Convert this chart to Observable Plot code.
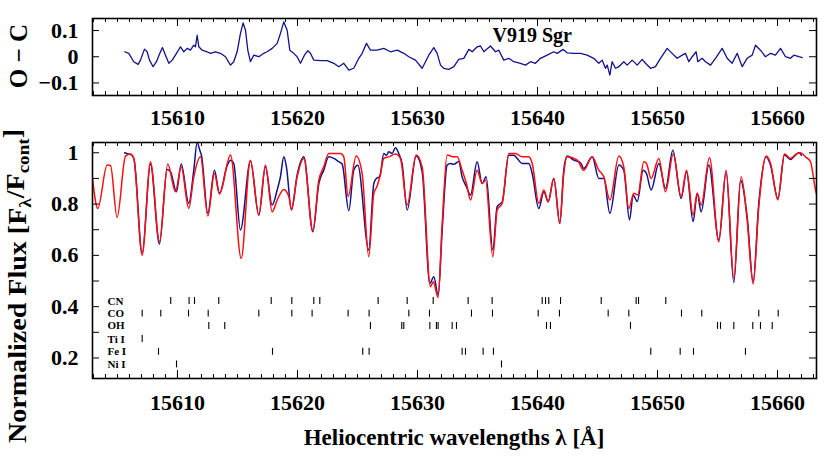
<!DOCTYPE html>
<html><head><meta charset="utf-8">
<script src="https://cdn.jsdelivr.net/npm/d3@7"></script>
<script src="https://cdn.jsdelivr.net/npm/@observablehq/plot@0.6"></script>
<style>
body{margin:0;background:#fff;}
#chart{position:relative;width:830px;height:464px;overflow:hidden;}
#chart svg{position:absolute;left:0;}
</style></head><body><div id="chart"></div><script>
// ---------------- DATA ----------------
const starName = "V919 Sgr";
const xTicks = [15610, 15620, 15630, 15640, 15650, 15660];
const ocTicks = [-0.1, 0, 0.1];
const fluxTicks = [0.2, 0.3, 0.4, 0.5, 0.6, 0.7, 0.8, 0.9, 1.0];
const fluxTickLabels = [0.2, 0.4, 0.6, 0.8, 1];

// synthetic spectrum (red)
const synWave = [15602.92,15603.36,15604.14,15604.42,15604.97,15605.67,15606.08,15606.36,15607.06,15607.75,15608.5,15609.19,15609.83,15610.31,15610.94,15611.36,15611.92,15612.53,15613.08,15613.5,15614.42,15615.31,15616.08,15616.78,15617.33,15617.89,
15618.31,15618.86,15619.28,15619.5,15619.97,15620.53,15621.28,15621.78,15622.19,15622.61,15623.58,15623.86,15624.22,15624.89,15625.39,15625.94,15626.36,15626.64,15626.92,15627.19,15627.61,15628.17,15628.58,15629.14,15629.89,15630.39,15631.08,15631.31,15631.72,15632.06,15632.47,15633.03,
15633.31,15633.72,15634.08,15634.42,15634.97,15635.39,15635.67,15636.28,15636.64,15637.06,15637.61,15638.17,15638.72,15639.28,15639.56,15640.11,15640.53,15640.89,15641.36,15641.86,15642.19,15642.47,15643.31,15643.86,15644.56,15645.11,15645.53,15646.03,15646.78,15647.19,15647.61,15648.03,
15648.36,15648.86,15649.08,15649.47,15650.11,15650.67,15651.31,15651.97,15652.42,15652.97,15653.31,15653.64,15654.33,15655.11,15655.72,15656.36,15656.97,15657.47,15657.97,15658.44,15659.06,15659.42,15660.03,15660.58,15661.08,15661.64,15661.92,15662.33,15662.75,15663.17,15663.25];
const synFlux = [0.90,0.783,0.952,0.950,0.748,0.987,0.995,0.978,0.601,0.965,0.653,0.956,0.848,0.945,0.783,0.906,0.984,0.753,0.919,0.839,0.991,0.588,0.971,0.757,0.952,0.770,
0.816,0.857,0.829,0.779,0.906,0.978,0.696,0.893,0.945,0.997,0.997,0.984,0.829,0.987,0.919,0.595,0.841,0.870,0.919,0.978,0.984,0.995,0.978,0.796,0.991,0.945,0.478,0.497,0.436,0.725,0.991,0.984,
0.984,0.932,0.880,0.816,0.932,0.880,0.893,0.595,0.777,0.803,0.997,0.997,0.984,0.984,0.958,0.803,0.855,0.809,0.900,0.725,0.919,0.984,0.971,0.932,0.984,0.932,0.906,0.816,0.987,0.945,0.783,0.842,
0.836,0.965,0.958,0.900,0.978,0.848,0.995,0.829,0.932,0.757,0.842,0.796,0.982,0.653,0.932,0.510,0.906,0.738,0.488,0.789,0.987,0.958,0.816,0.995,0.978,0.997,1.000,0.984,0.965,0.855,0.840];

// observed spectrum (blue)
const obsWave = [15605.6,15605.92,15606.22,15606.4,15607.06,15607.75,15608.5,15609.14,15609.42,15609.92,15610.31,15610.94,15611.36,15611.64,15611.86,15612.0,15612.53,15613.08,15613.5,15614.14,15614.42,15614.69,15615.25,15616.08,15616.78,15617.33,15617.89,
15618.31,15618.58,15618.86,15619.08,15619.5,15619.97,15620.53,15621.28,15621.78,15622.19,15622.61,15623.03,15623.44,15623.72,15624.28,15624.69,15625.03,15625.94,15626.36,15626.58,15626.86,15627.19,15627.42,15627.61,15627.89,15628.17,15628.44,15628.72,15629.14,15629.89,15630.39,15631.03,15631.36,15631.72,15632.06,15632.47,15632.75,15633.03,
15633.44,15633.72,15634.08,15634.42,15634.97,15635.39,15635.72,15636.28,15636.64,15637.06,15637.61,15638.03,15638.31,15638.72,15639.28,15639.56,15640.11,15640.53,15640.89,15641.36,15641.86,15642.19,15642.47,15643.03,15643.58,15643.86,15644.56,15645.11,15645.53,15646.03,15646.78,15647.19,15647.67,
15647.97,15648.31,15648.81,15649.08,15649.47,15650.11,15650.67,15651.28,15651.97,15652.42,15652.97,15653.31,15653.64,15654.28,15655.11,15655.72,15656.36,15656.92,15657.47,15657.97,15658.44,15659.06,15659.42,15660.03,15660.58,15661.08,15661.5,15661.78,15662.0];
const obsFlux = [1.0,0.995,0.99,0.97,0.608,0.956,0.644,0.935,0.926,0.848,0.956,0.803,0.932,1.04,1.01,0.99,0.764,0.932,0.842,0.95,0.971,0.958,0.699,0.968,0.757,0.945,0.796,
0.855,0.906,0.984,0.945,0.777,0.913,0.984,0.692,0.880,0.932,0.984,0.978,0.965,0.956,0.774,0.932,0.951,0.621,0.880,0.900,0.907,0.997,0.990,1.004,0.997,1.02,0.997,0.958,0.777,0.987,0.926,0.491,0.517,0.445,0.699,0.952,0.958,0.955,
0.966,0.906,0.868,0.835,0.965,0.880,0.906,0.621,0.790,0.809,0.990,0.990,0.978,0.958,0.958,0.919,0.783,0.848,0.809,0.900,0.725,0.932,0.987,0.971,0.961,0.939,0.984,0.900,0.900,0.764,0.952,0.932,0.738,
0.835,0.810,0.932,0.919,0.855,0.958,0.861,1.01,0.822,0.926,0.731,0.842,0.770,0.952,0.660,0.926,0.494,0.893,0.751,0.497,0.803,0.984,0.951,0.822,0.991,0.974,0.991,1.0,0.99];

// O - C residuals
const ocWave = [15605.61,15605.94,15606.36,15606.72,15606.92,15607.25,15607.47,15607.67,15607.97,15608.25,15608.53,15608.75,15609.0,15609.28,15609.56,15609.83,15610.25,15610.53,15610.81,15611.08,15611.36,15611.5,15611.64,15611.78,15612.06,15612.47,15612.75,15613.17,15613.58,15614.0,15614.42,15614.69,15614.97,15615.25,15615.47,15615.67,15615.86,15616.08,15616.36,15616.78,15617.19,15617.47,15617.89,15618.31,15618.58,15618.86,15619.14,15619.36,15619.69,15619.97,15620.25,15620.58,15620.86,15621.08,15621.36,15621.92,15622.47,15623.03,15623.44,15623.86,15624.28,15624.69,15625.11,15625.39,15625.75,15626.08,15626.64,15627.19,15627.75,15628.31,15628.86,15629.28,15629.83,
15630.39,15630.67,15630.94,15631.36,15631.64,15631.92,15632.19,15632.61,15633.03,15633.44,15633.86,15634.28,15634.56,15634.97,15635.25,15635.53,15636.08,15636.5,15636.78,15637.19,15637.61,15638.03,15638.58,15639.0,15639.42,15639.83,15640.25,15640.81,15641.36,15641.64,15642.14,15642.47,15643.03,15643.58,15644.14,15644.69,15645.11,15645.39,15645.67,15645.81,15646.03,15646.22,15646.5,15646.78,15647.19,15647.47,15647.89,15648.31,15648.72,15649.0,15649.42,15649.83,15650.25,15650.81,15651.22,15651.64,15652.06,15652.33,15652.61,15652.89,15653.22,15653.36,15653.72,15654.0,15654.42,15654.83,15655.39,15655.81,15656.22,15656.64,15657.06,15657.47,15657.89,15658.17,15658.58,15659.0,15659.42,15659.83,15660.25,15660.67,15661.08,15661.36,15661.78,15662.06];
const ocValue = [0.019,0.013,-0.019,-0.029,-0.013,0.029,0.019,-0.013,-0.038,-0.019,0.013,0.035,0.006,-0.025,-0.013,0.006,0.038,0.019,0.032,0.025,0.044,0.038,0.082,0.038,0.025,0.019,0.013,0.019,0.013,0.0,-0.032,-0.019,0.019,0.089,0.129,0.101,0.025,-0.019,0.006,0.0,0.013,0.019,0.032,0.051,0.089,0.133,0.101,0.025,0.013,0.0,-0.025,0.006,0.023,0.013,-0.013,-0.015,-0.015,-0.025,-0.038,-0.025,-0.051,-0.044,-0.006,0.013,0.051,0.025,0.025,0.032,0.019,0.025,0.013,0.0,-0.013,
-0.044,-0.019,0.006,0.035,0.013,-0.032,-0.044,-0.048,-0.038,-0.010,-0.006,0.028,0.019,0.038,0.041,0.019,0.041,0.019,0.025,-0.013,-0.006,-0.019,-0.025,-0.032,-0.019,-0.025,-0.006,0.006,0.019,0.013,0.028,0.015,0.013,0.013,0.006,-0.006,-0.025,-0.013,-0.044,-0.032,-0.070,-0.019,-0.044,-0.038,-0.019,-0.032,-0.013,-0.032,-0.010,-0.025,-0.044,-0.038,-0.006,0.032,0.013,-0.006,0.006,0.013,-0.019,0.0,0.019,-0.019,-0.006,-0.019,-0.032,-0.006,0.032,-0.006,-0.025,0.013,-0.038,-0.006,0.006,0.044,0.025,0.0,0.013,0.006,0.032,0.0,-0.006,0.006,0.0,-0.003];

// line lists
const species = ["CN", "CO", "OH", "Ti I", "Fe I", "Ni I"];
const speciesFlux = [0.422, 0.373, 0.325, 0.274, 0.224, 0.175];
const cnLines = [15609.44,15610.97,15611.42,15613.44,15617.81,15619.53,15621.36,15621.86,15626.72,15629.14,15631.31,15634.22,15636.22,15640.39,15640.67,15640.94,15641.92,15645.31,15648.22,15648.42,15650.69];
const coLines = [15607.06,15608.61,15610.92,15612.56,15616.78,15619.53,15621.22,15624.22,15625.97,15629.28,15631.0,15634.5,15636.25,15640.06,15641.83,15645.89,15647.61,15652.0,15653.69,15658.44,15660.06];
const ohLines = [15612.61,15613.94,15626.08,15628.69,15628.86,15631.03,15631.58,15631.72,15632.89,15633.25,15640.75,15641.08,15647.75,15655.0,15655.25,15656.36,15657.94,15658.58,15659.56];
const tiLines = [15607.06];
const feLines = [15608.42,15617.92,15625.44,15625.97,15633.72,15634.0,15635.47,15636.33,15649.44,15651.89,15653.0,15657.33];
const niLines = [15609.92,15637.0];

// ---------------- TABLES ----------------
const synData = synWave.map((w, i) => ({w, f: synFlux[i]}));
const obsData = obsWave.map((w, i) => ({w, f: obsFlux[i]}));
const ocData = ocWave.map((w, i) => ({w, v: ocValue[i]}));
const lineLists = [cnLines, coLines, ohLines, tiLines, feLines, niLines];
const lineTicks = lineLists.flatMap((arr, i) => arr.map(w => ({w, f: speciesFlux[i]})));
const minorX = d3.range(15603, 15664, 1);

// ---------------- LAYOUT ----------------
const font = "'Liberation Serif','Times New Roman',serif";
const blue = "#12128e", red = "#ff0d0d";
const W = 830, ML = 92, MR = 14, frameW = W - ML - MR;
const xDomain = [15602.92, 15663.25];
const fmtX = d => String(d);
const fmtOC = d => d === 0 ? "0" : (d < 0 ? "\u2212" : "") + Math.abs(d);

const topH = 130, topMT = 18, topMB = 35, topFH = topH - topMT - topMB;
const botH = 334, botMT = 12, botMB = 86, botFH = botH - botMT - botMB;

function edgeTicks(fh, xs, ys, len) {
  return [
    Plot.tickX(xs, {x: d => d, insetBottom: fh - len, stroke: "black"}),
    Plot.tickX(xs, {x: d => d, insetTop: fh - len, stroke: "black"}),
    ...(ys ? [
      Plot.tickY(ys, {y: d => d, insetRight: frameW - 7, stroke: "black"}),
      Plot.tickY(ys, {y: d => d, insetLeft: frameW - 7, stroke: "black"})
    ] : [])
  ];
}

const style = {fontFamily: font, fontWeight: "bold", fontSize: "22px", color: "black", background: "transparent", overflow: "visible"};

const topPlot = Plot.plot({
  width: W, height: topH, marginLeft: ML, marginRight: MR, marginTop: topMT, marginBottom: topMB,
  x: {domain: xDomain}, y: {domain: [-0.148, 0.146]},
  style,
  marks: [
    Plot.line(ocData, {x: "w", y: "v", stroke: blue, strokeWidth: 1.3}),
    ...edgeTicks(topFH, minorX, null, 4),
    ...edgeTicks(topFH, xTicks, ocTicks, 8),
    Plot.frame({stroke: "black", strokeWidth: 1.6}),
    Plot.axisX({ticks: xTicks, tickSize: 0, tickPadding: 14, tickFormat: fmtX, fontSize: 22, label: null}),
    Plot.axisY({ticks: ocTicks, tickSize: 0, tickPadding: 14, tickFormat: fmtOC, fontSize: 22, label: null}),
    Plot.text([starName], {text: d => d, frameAnchor: "top-left", dx: 400, dy: 9, textAnchor: "start", fontSize: 20, fontWeight: "bold"})
  ]
});

const botPlot = Plot.plot({
  width: W, height: botH, marginLeft: ML, marginRight: MR, marginTop: botMT, marginBottom: botMB,
  x: {domain: xDomain}, y: {domain: [0.12, 1.04]},
  style,
  marks: [
    Plot.line(obsData, {x: "w", y: "f", stroke: blue, strokeWidth: 1.5, curve: "monotone-x", clip: true}),
    Plot.line(synData, {x: "w", y: "f", stroke: red, strokeWidth: 1.5, curve: "monotone-x", clip: true}),
    Plot.ruleX(lineTicks, {x: "w", y1: d => d.f - 0.0135, y2: d => d.f + 0.0135, stroke: "black", strokeWidth: 1.1}),
    Plot.text(species, {text: d => d, y: (d, i) => speciesFlux[i], frameAnchor: "left", dx: 15, textAnchor: "start", fontSize: 11, fontWeight: "bold"}),
    ...edgeTicks(botFH, minorX, null, 4),
    ...edgeTicks(botFH, xTicks, fluxTicks, 8),
    Plot.frame({stroke: "black", strokeWidth: 1.6}),
    Plot.axisX({ticks: xTicks, tickSize: 0, tickPadding: 16, tickFormat: fmtX, fontSize: 22, label: null}),
    Plot.axisY({ticks: fluxTickLabels, tickSize: 0, tickPadding: 14, tickFormat: d => String(d), fontSize: 22, label: null})
  ]
});

const chart = document.getElementById("chart");
topPlot.style.top = "0px";
botPlot.style.top = "130px";
chart.appendChild(topPlot);
chart.appendChild(botPlot);

// axis titles
d3.select(topPlot).append("text")
  .attr("transform", "translate(27,56) rotate(-90)")
  .attr("text-anchor", "middle")
  .attr("font-family", font).attr("font-weight", "bold").attr("font-size", 25)
  .attr("fill", "black")
  .text("O \u2212 C");

const yl = d3.select(botPlot).append("text")
  .attr("transform", "translate(26,156) rotate(-90)")
  .attr("text-anchor", "middle")
  .attr("textLength", 314).attr("lengthAdjust", "spacingAndGlyphs")
  .attr("font-family", font).attr("font-weight", "bold").attr("font-size", 25)
  .attr("fill", "black");
yl.append("tspan").text("Normalized Flux [F");
yl.append("tspan").attr("font-size", 17).attr("dy", "0.3em").text("\u03bb");
yl.append("tspan").attr("dy", "-0.3em").text("/F");
yl.append("tspan").attr("font-size", 17).attr("dy", "0.3em").text("cont");
yl.append("tspan").attr("dy", "-0.3em").text("]");

d3.select(botPlot).append("text")
  .attr("x", (ML + W - MR) / 2).attr("y", 315)
  .attr("text-anchor", "middle")
  .attr("font-family", font).attr("font-weight", "bold").attr("font-size", 23)
  .attr("fill", "black")
  .text("Heliocentric wavelengths \u03bb [\u00c5]");
</script></body></html>
